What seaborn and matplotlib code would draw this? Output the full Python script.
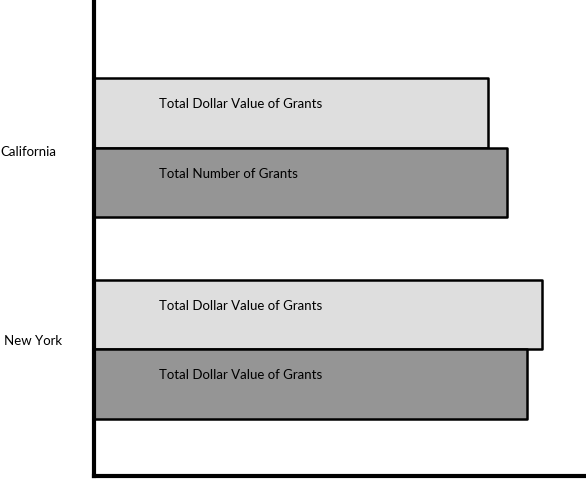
import pandas as pd
import matplotlib
matplotlib.use("Agg")
import matplotlib.pyplot as plt
import matplotlib.transforms as mtransforms
import seaborn as sns

# Data (x axis in relative units, 0-100)
states = ["California", "California", "New York", "New York"]
slots = ["top", "bottom", "top", "bottom"]
values = [80, 84, 91, 88]
bar_labels = [
    "Total Dollar Value of Grants",
    "Total Number of Grants",
    "Total Dollar Value of Grants",
    "Total Dollar Value of Grants",
]

df = pd.DataFrame({"state": states, "slot": slots, "value": values, "label": bar_labels})

sns.set_theme(style="white")
plt.rcParams["font.family"] = ["Lato", "DejaVu Sans"]

fig = plt.figure(figsize=(5.86, 4.79), dpi=100)
ax = fig.add_axes([94 / 586, 3 / 479, 1 - 94 / 586, 476 / 479])

sns.barplot(
    data=df, x="value", y="state", hue="slot", orient="h",
    hue_order=["top", "bottom"],
    palette={"top": "#dedede", "bottom": "#959595"},
    width=0.69, edgecolor="black", linewidth=1.8,
    legend=False, ax=ax,
)
for p in ax.patches:
    p.set_joinstyle("round")

ax.set_xlim(0, 100)
ax.set_ylim(1.628, -0.734)
ax.set_xlabel("")
ax.set_ylabel("")
ax.set_xticks([])

# labels inside the bars
bars = [p for p in ax.patches if p.get_width() > 0]
bars.sort(key=lambda p: p.get_y())
for p, txt in zip(bars, df.sort_values(["state", "slot"], ascending=[True, False])["label"]):
    cy = p.get_y() + p.get_height() / 2
    ax.text(13.2, cy - 0.045, txt, ha="left", va="center", fontsize=9.5, color="black")

ax.tick_params(axis="y", length=0, pad=46)
# small per-label nudges (points) to match the sketch
nudges = {"California": (-1.5, -2), "New York": (2, 7)}
for lbl in ax.get_yticklabels():
    lbl.set_horizontalalignment("center")
    lbl.set_fontsize(9.5)
    lbl.set_color("black")
    dx, dy = nudges.get(lbl.get_text(), (0, 0))
    lbl.set_transform(lbl.get_transform() + mtransforms.ScaledTranslation(dx / 72, dy / 72, fig.dpi_scale_trans))

for side in ["top", "right"]:
    ax.spines[side].set_visible(False)
for side in ["left", "bottom"]:
    ax.spines[side].set_linewidth(3)
    ax.spines[side].set_color("black")

fig.savefig("out.png", dpi=100)
